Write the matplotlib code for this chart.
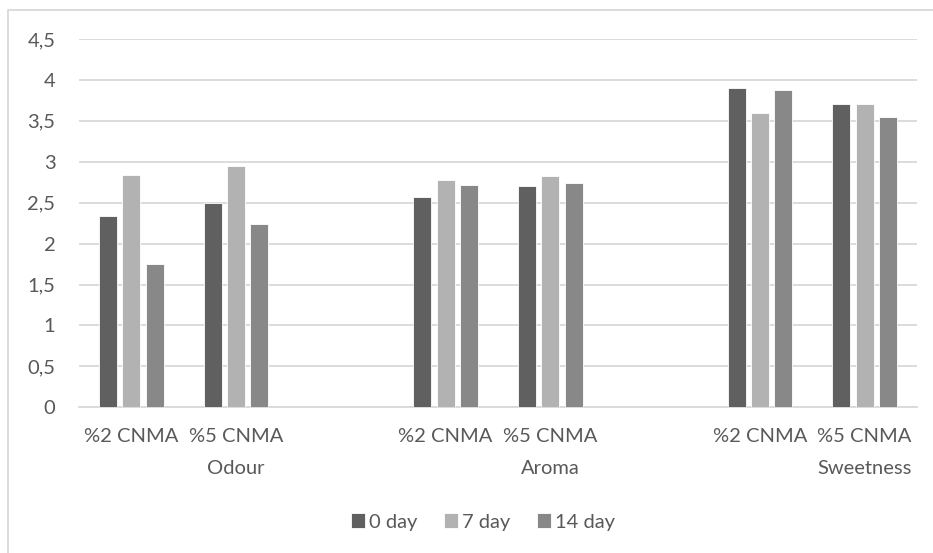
import numpy as np
import matplotlib
matplotlib.use("Agg")
from matplotlib import pyplot as plt
from matplotlib.lines import Line2D

## values
groups = ["Odour", "Aroma", "Sweetness"]
treatments = ["%2 CNMA", "%5 CNMA"]
series_labels = ["0 day", "7 day", "14 day"]

day0 = [2.34, 2.50, 2.57, 2.70, 3.90, 3.70]
day7 = [2.84, 2.95, 2.78, 2.83, 3.59, 3.71]
day14 = [1.75, 2.24, 2.72, 2.74, 3.88, 3.55]

yticks = [0, 0.5, 1, 1.5, 2, 2.5, 3, 3.5, 4, 4.5]

colors = ["#606060", "#b2b2b2", "#888888"]
text_color = "#595959"
grid_color = "#d9d9d9"
fs = 14.5

plt.rcParams["font.family"] = ["Lato", "DejaVu Sans"]

fig = plt.figure(figsize=(9.33, 5.53), dpi=100)
ax = fig.add_axes([79 / 933, 1 - 407.3 / 553, 838 / 933, 368.3 / 553])

## each group takes three slots: two treatments and one empty spacer
x = np.array([g * 3 + t for g in range(len(groups)) for t in range(len(treatments))])

bar_w = 0.172
step = 0.2225
for i, (vals, lab) in enumerate(zip([day0, day7, day14], series_labels)):
    ax.bar(x + (i - 1) * step, vals, width=bar_w, color=colors[i], label=lab,
           edgecolor="white", linewidth=0.6, zorder=3)

ax.set_xlim(-0.5, 7.5)
ax.set_ylim(0, 4.5)
ax.set_yticks(yticks)
ax.set_yticklabels([f"{v:g}".replace(".", ",") for v in yticks])
ax.yaxis.grid(True, color=grid_color, linewidth=1.3, zorder=0)
ax.set_axisbelow(True)

ax.set_xticks(x)
ax.set_xticklabels(treatments * len(groups))
ax.tick_params(axis="x", length=0, pad=15, labelsize=fs, labelcolor=text_color)
ax.tick_params(axis="y", length=0, pad=17, labelsize=fs, labelcolor=text_color)

for g, name in enumerate(groups):
    ax.text(g * 3 + 1, -0.166, name, transform=ax.get_xaxis_transform(),
            ha="center", va="center", fontsize=fs, color=text_color)

for side in ["top", "right", "left"]:
    ax.spines[side].set_visible(False)
ax.spines["bottom"].set_color(grid_color)
ax.spines["bottom"].set_linewidth(1.3)

## chart frame (right and bottom edges fall outside the picture)
fig.add_artist(Line2D([8 / 933, 8 / 933, 1.0], [0.0, 1 - 10 / 553, 1 - 10 / 553],
                      transform=fig.transFigure, color=grid_color, linewidth=1.3))

fig.legend(loc="center", bbox_to_anchor=(483 / 933, 1 - 522 / 553), ncol=3,
           frameon=False, fontsize=fs, labelcolor=text_color,
           handlelength=0.7, handleheight=0.7, handletextpad=0.2, columnspacing=1.3)

fig.savefig("out.png", dpi=100)
